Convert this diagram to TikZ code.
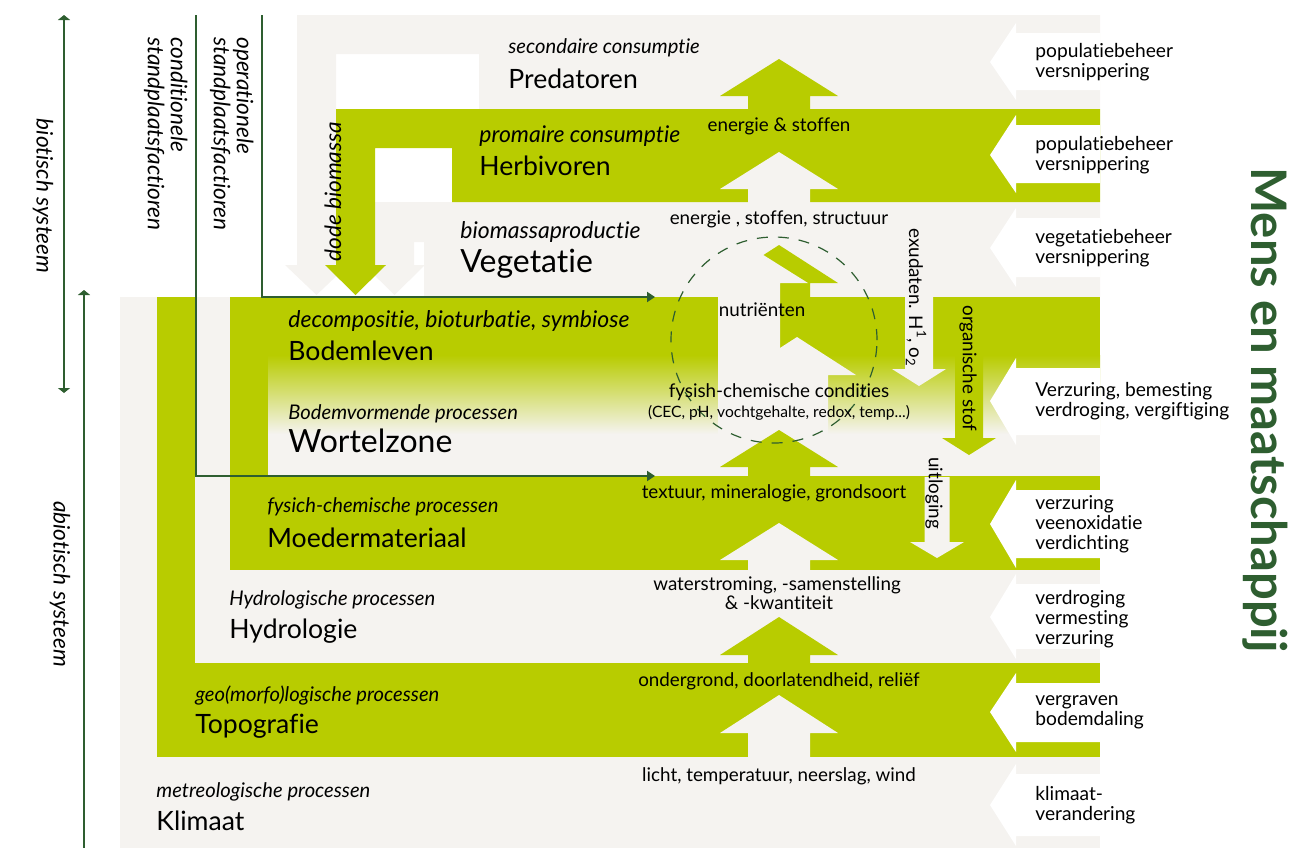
\documentclass[tikz,border=0pt]{standalone}
\usepackage{fontspec}
\setmainfont{Lato}[Ligatures=NoCommon]
\usetikzlibrary{arrows.meta}

\definecolor{lime}{HTML}{B8CC00}
\definecolor{paper}{HTML}{F5F3F0}
\definecolor{dkgreen}{HTML}{2E5E30}

\newcommand{\flowup}[5]{\fill[#1] (#2-31,#3) -- (#2-31,#4) -- (#2-59,#4) -- (#2,#5) -- (#2+59,#4) -- (#2+31,#4) -- (#2+31,#3) -- cycle;}
\newcommand{\flowdown}[7]{\fill[#1] (#2-#6,#3) -- (#2-#6,#4) -- (#2-#7,#4) -- (#2,#5) -- (#2+#7,#4) -- (#2+#6,#4) -- (#2+#6,#3) -- cycle;}
\newcommand{\pressarr}[3]{\fill[white] (1100,#1+10) -- (1016,#1+10) -- (1016,#1) -- (990,#2) -- (1016,#3) -- (1016,#3-10) -- (1100,#3-10) -- cycle;}

\tikzset{
  lyr/.style={anchor=base west, inner sep=0pt, font=\fontsize{13.3}{15}\selectfont},
  lyrbig/.style={lyr, font=\fontsize{16}{18}\selectfont},
  proc/.style={anchor=base west, inner sep=0pt, font=\fontsize{10.1}{12}\selectfont\itshape},
  procbig/.style={proc, font=\fontsize{11.5}{13}\selectfont\itshape},
  flw/.style={anchor=base, inner sep=0pt, font=\fontsize{9.4}{11}\selectfont},
  flwsm/.style={flw, font=\fontsize{7.8}{9}\selectfont},
  prs/.style={anchor=west, inner sep=0pt, align=left, font=\fontsize{9.6}{10}\selectfont},
  fct/.style={inner sep=0pt, font=\fontsize{11.3}{11.5}\selectfont\itshape},
  ttl/.style={inner sep=0pt, text=dkgreen, font=\fontsize{24.5}{26}\selectfont\bfseries},
  dgline/.style={draw=dkgreen, line width=1.25pt},
  sysline/.style={draw=dkgreen, line width=0.7pt}
}

\begin{document}
\begin{tikzpicture}[x=0.5pt, y=-0.5pt]
  \useasboundingbox (0,0) rectangle (1316,848);

  \fill[paper] (120,297) rectangle (1100,848);
  \fill[paper] (297,15) -- (1100,15) -- (1100,109) -- (479,109) -- (479,54) -- (336,54) -- (336,265) -- (348,265) -- (316.5,295) -- (285,265) -- (297,265) -- cycle;
  \fill[paper] (375,202) -- (1100,202) -- (1100,297) -- (424,297) -- (424,242) -- (414,242) -- (414,265) -- (425,265) -- (394.5,295) -- (364,265) -- (375,265) -- cycle;
  \fill[lime] (336,109) -- (1100,109) -- (1100,202) -- (452,202) -- (452,148) -- (375,148) -- (375,265) -- (386,265) -- (355.5,295) -- (325,265) -- (336,265) -- cycle;

  \fill[lime] (268,297) rectangle (1100,356);
  \shade[top color=lime, bottom color=paper] (268,355) rectangle (1100,434);
  \fill[lime] (230,297) rectangle (268,570);
  \fill[lime] (268,476) rectangle (1100,570);
  \fill[lime] (157,297) rectangle (195,757);
  \fill[lime] (195,663) rectangle (1100,757);

  \flowup{lime}{779}{110}{96}{59}
  \flowup{paper}{779}{203}{189}{152}
  \flowup{lime}{779}{300}{283}{245}
  \flowup{paper}{749}{440}{283}{246}
  \flowup{paper}{797}{440}{375}{337}
  \flowup{lime}{779}{477}{467}{430}
  \flowup{paper}{779}{571}{560}{523}
  \flowup{lime}{779}{664}{655}{617}
  \flowup{paper}{779}{758}{733}{695}

  \flowdown{paper}{919}{297}{369}{386}{14}{27}
  \flowdown{lime}{969}{332}{438}{455}{14}{27}
  \flowdown{paper}{937}{477}{542}{558}{12.5}{27}

  \pressarr{23}{62}{100}
  \pressarr{115}{155}{193}
  \pressarr{208}{248}{287}
  \pressarr{358}{401}{445}
  \pressarr{480}{524}{568}
  \pressarr{574}{617}{659}
  \pressarr{673}{712}{752}
  \pressarr{764}{805}{846}

  \draw[dkgreen, line width=0.6pt, dash pattern=on 5.5pt off 5pt] (774,340) circle[radius=51.5pt];

  \coordinate (CondTop) at (196,15);
  \coordinate (CondEnd) at (655,476);
  \coordinate (OperTop) at (262,15);
  \coordinate (OperEnd) at (655,297);
  \draw[dgline, -{Triangle[length=4pt,width=5pt]}] (CondTop) |- (CondEnd);
  \draw[dgline, -{Triangle[length=4pt,width=5pt]}] (OperTop) |- (OperEnd);

  \coordinate (BioTop) at (64,15);
  \coordinate (BioBot) at (64,393);
  \coordinate (AbioTop) at (84,290);
  \coordinate (AbioBot) at (84,848);
  \draw[sysline, {Triangle[length=2.5pt,width=6pt]}-{Triangle[length=2.5pt,width=6pt]}] (BioTop) -- (BioBot);
  \draw[sysline, {Triangle[length=2.5pt,width=6pt]}-] (AbioTop) -- (AbioBot);

  \node[proc] (PredS) at (508,53) {secondaire consumptie};
  \node[lyr] (Pred) at (508,88) {Predatoren};
  \node[procbig] (HerbS) at (479,142) {promaire consumptie};
  \node[lyr] (Herb) at (479,175) {Herbivoren};
  \node[procbig] (VegS) at (460,238) {biomassaproductie};
  \node[lyrbig] (Veg) at (460,272) {Vegetatie};
  \node[procbig] (BodS) at (288,327) {decompositie, bioturbatie, symbiose};
  \node[lyr] (Bod) at (288,360) {Bodemleven};
  \node[proc] (WorS) at (288,419) {Bodemvormende processen};
  \node[lyrbig] (Wor) at (288,452) {Wortelzone};
  \node[proc] (MoeS) at (267,512) {fysich-chemische processen};
  \node[lyr] (Moe) at (267,547) {Moedermateriaal};
  \node[proc] (HydS) at (229,605) {Hydrologische processen};
  \node[lyr] (Hyd) at (229,638) {Hydrologie};
  \node[proc] (TopS) at (195,701) {geo(morfo)logische processen};
  \node[lyr] (Top) at (195,733) {Topografie};
  \node[proc] (KliS) at (156,797) {metreologische processen};
  \node[lyr] (Kli) at (156,830) {Klimaat};

  \node[flw] (ES) at (779,131) {energie \& stoffen};
  \node[flw] (ESS) at (779,224) {energie , stoffen, structuur};
  \node[flw] (Nut) at (762,316) {nutriënten};
  \node[flw] (FC) at (779,397) {fysish-chemische condities};
  \node[flwsm] (FCx) at (779,417) {(CEC, pH, vochtgehalte, redox, temp...)};
  \node[flw] (TMG) at (774,498) {textuur, mineralogie, grondsoort};
  \node[flw] (WS) at (777,590) {waterstroming, -samenstelling};
  \node[flw] (WK) at (779,609) {\& -kwantiteit};
  \node[flw] (ODR) at (779,686) {ondergrond, doorlatendheid, reliëf};
  \node[flw] (LTN) at (779,781) {licht, temperatuur, neerslag, wind};

  \node[flw, rotate=-90, anchor=west] (Exu) at (916,228) {exudaten. H\textsuperscript{1}, o\textsubscript{2}};
  \node[flw, rotate=-90, anchor=west] (Org) at (968,305) {organische stof};
  \node[flw, rotate=-90, anchor=west] (Uit) at (934,457) {uitloging};
  \node[fct, rotate=90, anchor=west] (Dode) at (333,262) {dode biomassa};

  \node[fct, rotate=-90, anchor=north west, align=left] (Cond) at (188,37) {conditionele\\standplaatsfactioren};
  \node[fct, rotate=-90, anchor=north west, align=left] (Oper) at (254,37) {operationele\\standplaatsfactioren};
  \node[fct, rotate=-90] (Bio) at (43,196) {biotisch systeem};
  \node[fct, rotate=-90] (Abio) at (60,584) {abiotisch systeem};

  \node[prs] (P1) at (1035,62) {populatiebeheer\\versnippering};
  \node[prs] (P2) at (1035,155) {populatiebeheer\\versnippering};
  \node[prs] (P3) at (1035,248) {vegetatiebeheer\\versnippering};
  \node[prs] (P4) at (1035,401) {Verzuring, bemesting\\verdroging, vergiftiging};
  \node[prs] (P5) at (1035,524) {verzuring\\veenoxidatie\\verdichting};
  \node[prs] (P6) at (1035,619) {verdroging\\vermesting\\verzuring};
  \node[prs] (P7) at (1035,712) {vergraven\\bodemdaling};
  \node[prs] (P8) at (1035,805) {klimaat-\\verandering};

  \node[ttl, rotate=-90] (Mens) at (1265,410) {Mens en maatschappij};
\end{tikzpicture}
\end{document}
